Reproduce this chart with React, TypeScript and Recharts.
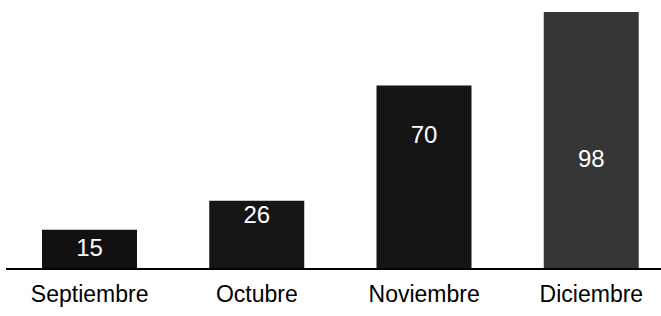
import {BarChart, Bar, XAxis, YAxis, Cell, LabelList} from 'recharts';

const months = ['Septiembre', 'Octubre', 'Noviembre', 'Diciembre'];
const values = [15, 26, 70, 98];
const COLORS = ['#111111', '#161616', '#141414', '#363636'];
// where the white number sits inside each bar (fraction of bar height from its top)
const LABEL_POS = [0.45, 0.2, 0.27, 0.57];

const data = months.map((m, i) => ({name: m, value: values[i]}));

const renderLabel = (props: any) => {
  const {x, y, width, height, value, index} = props;
  const cy = y + height * LABEL_POS[index];
  return (
    <text
      x={x + width / 2}
      y={cy}
      fill="#ffffff"
      fontSize={24}
      fontFamily="Liberation Sans, Arial, sans-serif"
      textAnchor="middle"
      dominantBaseline="central"
    >
      {value}
    </text>
  );
};

export default function App() {
  return (
    <div style={{position: 'absolute', left: 0, top: 0, width: 661, height: 316, overflow: 'hidden', background: '#fff'}}>
      <BarChart width={675} height={316} data={data} margin={{top: 12, right: 0, bottom: 0, left: 6}}>
        <XAxis
          dataKey="name"
          height={47}
          axisLine={{stroke: '#000', strokeWidth: 2}}
          tickLine={false}
          tickSize={15}
          tick={{fill: '#000', fontSize: 23, fontFamily: 'Liberation Sans, Arial, sans-serif'}}
          interval={0}
        />
        <YAxis hide domain={[0, 98]} />
        <Bar dataKey="value" barSize={95} isAnimationActive={false}>
          {data.map((_entry, index) => (
            <Cell key={`cell-${index}`} fill={COLORS[index]} />
          ))}
          <LabelList dataKey="value" content={renderLabel} />
        </Bar>
      </BarChart>
    </div>
  );
}
